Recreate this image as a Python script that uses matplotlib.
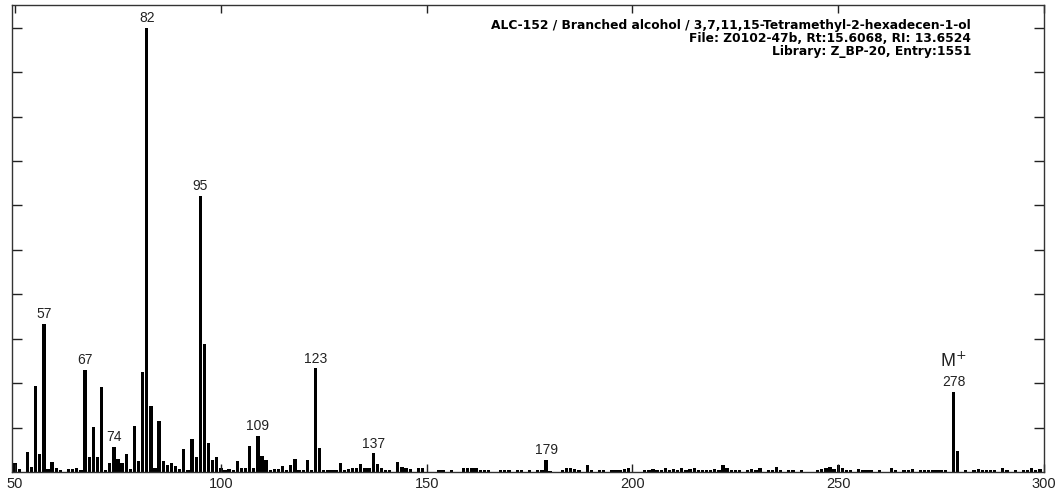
import matplotlib

matplotlib.use("Agg")
import matplotlib.pyplot as plt

# m/z and relative abundance (% of base peak 82)
mz = [
    50, 51, 53, 54, 55, 56, 57, 58, 59, 60, 61, 63, 64, 65, 66, 67, 68, 69, 70, 71,
    72, 73, 74, 75, 76, 77, 78, 79, 80, 81, 82, 83, 84, 85, 86, 87, 88, 89, 90, 91,
    92, 93, 94, 95, 96, 97, 98, 99, 100, 101, 102, 103, 104, 105, 106, 107, 108, 109, 110, 111,
    112, 113, 114, 115, 116, 117, 118, 119, 120, 121, 122, 123, 124, 125, 126, 127, 128, 129, 130, 131,
    132, 133, 134, 135, 136, 137, 138, 139, 140, 141, 143, 144, 145, 146, 148, 149,
    153, 154, 156, 159, 160, 161, 162, 163, 164, 165, 168, 169, 170, 172, 173, 175,
    177, 178, 179, 180, 183, 184, 185, 186, 187, 189, 190, 192, 193, 195, 196, 197, 198, 199,
    203, 204, 205, 206, 207, 208, 209, 210, 211, 212, 213, 214, 215, 216, 217, 218, 219, 220,
    221, 222, 223, 224, 225, 226, 228, 229, 230, 231, 233, 234, 235, 236, 238, 239, 241,
    245, 246, 247, 248, 249, 250, 251, 252, 253, 255, 256, 257, 258, 260, 263, 264,
    266, 267, 268, 270, 271, 272, 273, 274, 275, 276, 278, 279,
    281, 283, 284, 285, 286, 287, 288, 290, 291, 293, 295, 296, 297, 298, 299,
]
rel_abundance = [
    2.0, 0.6, 4.4, 1.2, 19.4, 4.0, 33.4, 0.6, 2.3, 1.0, 0.5, 0.6, 0.6, 1.0, 0.4, 22.9, 3.4, 10.2, 3.4, 19.2,
    0.5, 2.0, 5.7, 3.0, 2.0, 4.0, 0.6, 10.4, 2.4, 22.5, 100.0, 14.8, 1.0, 11.5, 2.4, 1.6, 2.1, 1.3, 0.6, 5.2,
    0.4, 7.4, 3.4, 62.2, 28.7, 6.6, 2.7, 3.4, 0.8, 0.4, 0.6, 0.4, 2.4, 0.8, 0.8, 5.9, 1.0, 8.1, 3.7, 2.8,
    0.5, 0.6, 0.6, 1.3, 0.5, 1.6, 3.0, 0.4, 0.4, 2.6, 0.5, 23.3, 5.5, 0.5, 0.4, 0.5, 0.4, 2.1, 0.4, 0.6,
    0.8, 1.0, 1.8, 0.8, 1.0, 4.2, 1.8, 0.8, 0.5, 0.5, 2.2, 1.2, 0.8, 0.6, 1.0, 1.0,
    0.5, 0.4, 0.5, 0.8, 1.0, 0.8, 1.0, 0.5, 0.5, 0.4, 0.4, 0.5, 0.4, 0.4, 0.5, 0.4,
    0.5, 0.5, 2.8, 0.3, 0.5, 0.8, 1.0, 0.6, 0.5, 1.5, 0.4, 0.4, 0.4, 0.4, 0.5, 0.5, 0.6, 1.0,
    0.5, 0.4, 0.6, 0.5, 0.4, 0.8, 0.5, 0.6, 0.4, 0.8, 0.5, 0.6, 0.8, 0.5, 0.4, 0.5, 0.4, 0.6,
    0.4, 1.5, 0.8, 0.4, 0.5, 0.4, 0.4, 0.6, 0.5, 1.0, 0.4, 0.5, 1.2, 0.5, 0.4, 0.5, 0.4,
    0.5, 0.6, 1.0, 1.2, 0.6, 1.5, 1.0, 0.5, 0.4, 0.6, 0.4, 0.5, 0.4, 0.4, 1.0, 0.4,
    0.5, 0.4, 0.6, 0.4, 0.5, 0.4, 0.4, 0.5, 0.4, 0.5, 18.0, 4.7,
    0.4, 0.5, 0.6, 0.5, 0.4, 0.4, 0.5, 1.0, 0.4, 0.4, 0.5, 0.4, 0.8, 0.5, 0.6,
]
labelled_mz = [57, 67, 74, 82, 95, 109, 123, 137, 179, 278]

x_ticks = [50, 100, 150, 200, 250, 300]
y_ticks = [10, 20, 30, 40, 50, 60, 70, 80, 90, 100]

header = [
    "ALC-152 / Branched alcohol / 3,7,11,15-Tetramethyl-2-hexadecen-1-ol",
    "File: Z0102-47b, Rt:15.6068, RI: 13.6524",
    "Library: Z_BP-20, Entry:1551",
]

W, H = 1058, 492
plt.rcParams["font.family"] = ["Liberation Sans", "DejaVu Sans"]

fig = plt.figure(figsize=(W / 100, H / 100), dpi=100)
ax = fig.add_axes([12 / W, 20 / H, 1032 / W, 467 / H])

ax.bar(mz, rel_abundance, width=0.8, color="black", linewidth=0)

ax.set_xlim(49.25, 300)
ax.set_ylim(0, 105.1)

ax.set_xticks(x_ticks)
ax.set_yticks(y_ticks)
ax.tick_params(axis="x", direction="in", length=5.5, width=1, top=True, pad=3.5,
               labelsize=10.5, colors="#222222")
ax.tick_params(axis="y", direction="in", length=7.2, width=1, right=True,
               labelleft=False, colors="#222222")
for sp in ax.spines.values():
    sp.set_color("#333333")
    sp.set_linewidth(1)

lookup = dict(zip(mz, rel_abundance))
for m in labelled_mz:
    ax.annotate(str(m), (m, lookup[m]), xytext=(0, 2), textcoords="offset points",
                ha="center", va="bottom", fontsize=10, color="#222222")

ax.annotate("M$^{+}$", (278, lookup[278]), xytext=(0, 15), textcoords="offset points",
            ha="center", va="bottom", fontsize=13, color="#222222")

# header block, right-aligned inside the frame
for i, line in enumerate(header):
    fig.text(971 / W, 1 - (25 + 13 * i) / H, line, ha="right", va="center",
             fontsize=8.8, fontweight="bold", family="DejaVu Sans", color="black")

fig.savefig("out.png", dpi=100)
